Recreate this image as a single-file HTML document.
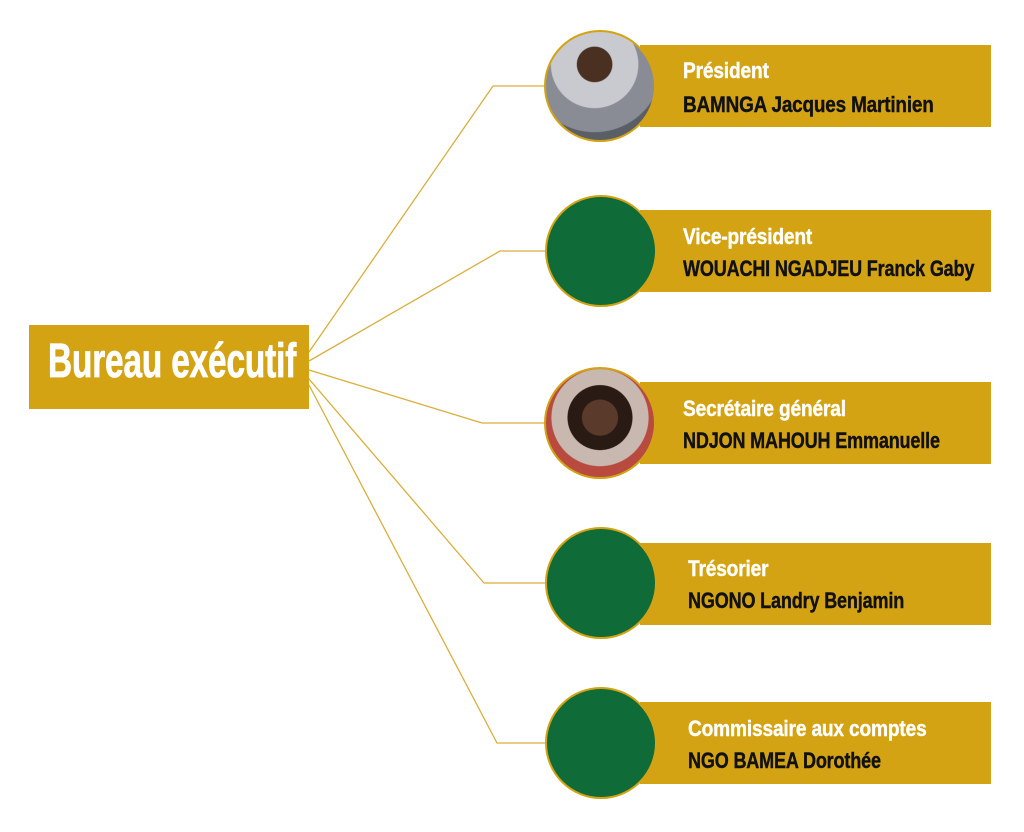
<!DOCTYPE html>
<html><head><meta charset="utf-8"><style>
body{margin:0;width:1024px;height:832px;background:#fff;position:relative;overflow:hidden;font-family:"Liberation Sans Narrow","Liberation Sans",sans-serif;}
.bar{position:absolute;left:640px;width:351px;height:82px;background:#d4a313;}
.c{position:absolute;width:108px;height:108px;border-radius:50%;border:2px solid #d4a313;background:#0f6b37;}
.t{position:absolute;white-space:nowrap;font-weight:bold;font-size:22px;transform:scaleX(0.82);transform-origin:left top;letter-spacing:-0.2px;-webkit-text-stroke:0.4px currentColor}
.w{color:#fff;transform:scaleX(0.87)}.k{color:#111}
.main{position:absolute;left:29px;top:325px;width:280px;height:84px;background:#d4a313;}
</style></head><body>
<svg width="1024" height="832" style="position:absolute;left:0;top:0">
<g stroke="#d9ae3c" stroke-width="1.3" fill="none">
<polyline points="309,352 493,86 550,86"/>
<polyline points="309,361 500,251 550,251"/>
<polyline points="309,370 482,423 550,423"/>
<polyline points="309,379 484,583 550,583"/>
<polyline points="309,385 497,743 550,743"/>
</g></svg>
<div class="main"></div>
<div class="t w" style="left:48px;top:334px;font-size:48px;transform:scaleX(0.695);-webkit-text-stroke:0.8px #fff">Bureau exécutif</div>

<div class="bar" style="top:45px"></div>
<div class="c" style="left:544px;top:30px;background:radial-gradient(circle at 45% 30%,#4a3020 0 18%,#c9c9d0 19% 45%,#8a8c95 46% 70%,#5a5e66 71%)"></div>
<div class="t w" style="left:683px;top:58px">Président</div>
<div class="t k" style="left:683px;top:92px;transform:scaleX(0.86)">BAMNGA Jacques Martinien</div>

<div class="bar" style="top:210px"></div>
<div class="c" style="left:545px;top:195px"></div>
<div class="t w" style="left:683px;top:224px">Vice-président</div>
<div class="t k" style="left:683px;top:256px">WOUACHI NGADJEU Franck Gaby</div>

<div class="bar" style="top:382px"></div>
<div class="c" style="left:544px;top:367px;background:radial-gradient(circle at 50% 45%,#5a3a2a 0 22%,#2a1a14 23% 40%,#c8b8b0 41% 60%,#b84a40 61%)"></div>
<div class="t w" style="left:683px;top:396px">Secrétaire général</div>
<div class="t k" style="left:683px;top:428px">NDJON MAHOUH Emmanuelle</div>

<div class="bar" style="top:543px"></div>
<div class="c" style="left:545px;top:527px"></div>
<div class="t w" style="left:688px;top:556px">Trésorier</div>
<div class="t k" style="left:688px;top:588px">NGONO Landry Benjamin</div>

<div class="bar" style="top:702px"></div>
<div class="c" style="left:545px;top:687px"></div>
<div class="t w" style="left:688px;top:716px">Commissaire aux comptes</div>
<div class="t k" style="left:688px;top:748px">NGO BAMEA Dorothée</div>
</body></html>
